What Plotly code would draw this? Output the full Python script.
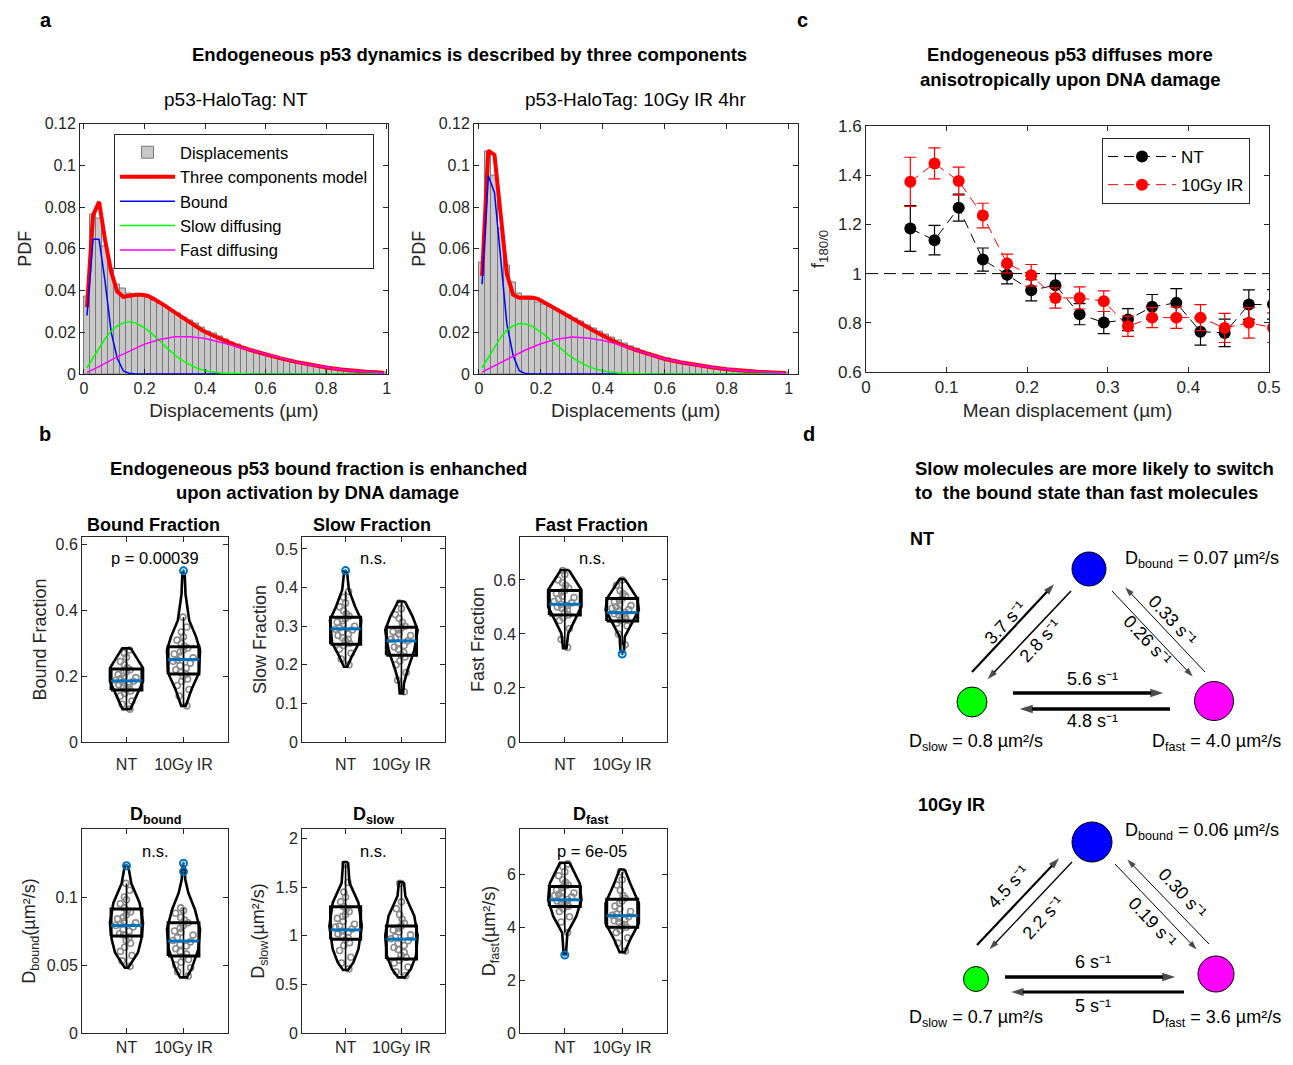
import plotly.graph_objects as go

# Page body keeps an 8 px margin, so the figure is 16 px smaller than the window.
OFF = 8
W, H = 1293 - 2 * OFF, 1065 - 2 * OFF
FONT = "Liberation Sans, Arial, Helvetica, sans-serif"
AXC = "#262626"
MEANC = "#0072BD"
GRAYPT = "#8c8c8c"


def px(x):
    return (x - OFF) / W


def py(y):
    return 1 - (y - OFF) / H


# ================= Panel a : displacement histograms =================
BIN_WIDTH = 0.02
hist_nt = [0.0373, 0.0766, 0.0745, 0.0613, 0.0506, 0.0430, 0.0408, 0.0385, 0.0378, 0.0372,
           0.0365, 0.0350, 0.0340, 0.0322, 0.0305, 0.0290, 0.0272, 0.0258, 0.0240, 0.0222,
           0.0205, 0.0192, 0.0178, 0.0165, 0.0152, 0.0140, 0.0128, 0.0118, 0.0107, 0.0098,
           0.0090, 0.0082, 0.0075, 0.0066, 0.0060, 0.0054, 0.0048, 0.0042, 0.0037, 0.0033,
           0.0029, 0.0025, 0.0022, 0.0019, 0.0016, 0.0014, 0.0012, 0.0010, 0.0009, 0.0008]
hist_ir = [0.0533, 0.1067, 0.0951, 0.0697, 0.0522, 0.0437, 0.0386, 0.0370, 0.0355, 0.0342,
           0.0332, 0.0322, 0.0310, 0.0296, 0.0282, 0.0266, 0.0250, 0.0234, 0.0218, 0.0202,
           0.0188, 0.0174, 0.0160, 0.0147, 0.0134, 0.0122, 0.0110, 0.0099, 0.0089, 0.0080,
           0.0072, 0.0064, 0.0057, 0.0051, 0.0045, 0.0040, 0.0035, 0.0031, 0.0027, 0.0024,
           0.0021, 0.0018, 0.0016, 0.0014, 0.0012, 0.0010, 0.0009, 0.0007, 0.0006, 0.0005]
bin_centers = [round(BIN_WIDTH * (i + 0.5), 3) for i in range(len(hist_nt))]

model_x = [0.01, 0.03, 0.05, 0.07, 0.09, 0.11, 0.13, 0.15, 0.17, 0.19, 0.21, 0.23, 0.25,
           0.27, 0.29, 0.31, 0.33, 0.35, 0.37, 0.39, 0.41, 0.45, 0.5, 0.55, 0.6, 0.65,
           0.7, 0.75, 0.8, 0.85, 0.9, 0.95, 0.99]
model_nt = [0.032, 0.076, 0.0825, 0.064, 0.049, 0.0395, 0.037, 0.0375, 0.038, 0.038, 0.0375,
            0.036, 0.0345, 0.0325, 0.0305, 0.0285, 0.0265, 0.0245, 0.0228, 0.021, 0.0195,
            0.0168, 0.0138, 0.0114, 0.0093, 0.0075, 0.0058, 0.0043, 0.0031, 0.0022, 0.0014,
            0.0009, 0.0006]
model_ir = [0.047, 0.107, 0.105, 0.077, 0.048, 0.038, 0.0365, 0.0365, 0.0366, 0.036, 0.0345,
            0.033, 0.031, 0.0293, 0.0275, 0.0257, 0.024, 0.0223, 0.0207, 0.0192, 0.0178,
            0.0146, 0.0118, 0.0093, 0.0072, 0.0056, 0.0043, 0.0032, 0.0023, 0.0016, 0.0011,
            0.0007, 0.0005]
bound_x = [0.01, 0.03, 0.05, 0.07, 0.09, 0.11, 0.13, 0.15, 0.17, 0.99]
bound_nt = [0.028, 0.0645, 0.0645, 0.044, 0.02, 0.0075, 0.0015, 0.0003, 0.0, 0.0]
bound_ir = [0.043, 0.095, 0.087, 0.056, 0.024, 0.009, 0.0016, 0.0002, 0.0, 0.0]
slow_x = [0.01, 0.03, 0.05, 0.07, 0.09, 0.11, 0.13, 0.15, 0.17, 0.19, 0.21, 0.23, 0.25,
          0.27, 0.29, 0.31, 0.33, 0.35, 0.37, 0.39, 0.41, 0.45, 0.5, 0.55, 0.6, 0.99]
slow_nt = [0.003, 0.0075, 0.0125, 0.017, 0.0205, 0.023, 0.0245, 0.025, 0.0245, 0.023, 0.021,
           0.0185, 0.016, 0.013, 0.0105, 0.008, 0.006, 0.0045, 0.003, 0.002, 0.0013, 0.0005,
           0.0001, 0.0, 0.0, 0.0]
slow_ir = [0.003, 0.008, 0.013, 0.0175, 0.021, 0.023, 0.0242, 0.024, 0.023, 0.0212, 0.019,
           0.0165, 0.014, 0.0115, 0.009, 0.007, 0.0052, 0.0038, 0.0027, 0.0018, 0.0012, 0.0005,
           0.0001, 0.0, 0.0, 0.0]
fast_x = [0.01, 0.05, 0.1, 0.15, 0.2, 0.25, 0.3, 0.35, 0.4, 0.45, 0.5, 0.55, 0.6, 0.65, 0.7,
          0.75, 0.8, 0.85, 0.9, 0.95, 0.99]
fast_nt = [0.0008, 0.0035, 0.0075, 0.011, 0.0143, 0.0165, 0.0178, 0.0178, 0.017, 0.0152,
           0.0133, 0.0113, 0.0093, 0.0075, 0.0058, 0.0043, 0.0031, 0.0022, 0.0014, 0.0009,
           0.0005]
fast_ir = [0.0009, 0.004, 0.008, 0.0115, 0.0145, 0.0167, 0.0177, 0.0172, 0.016, 0.0142,
           0.0118, 0.0093, 0.0072, 0.0056, 0.0043, 0.0032, 0.0023, 0.0016, 0.0011, 0.0007,
           0.0005]

# ================= Panel c : anisotropy =================
mean_disp = [0.055, 0.085, 0.115, 0.145, 0.175, 0.205, 0.235, 0.265, 0.295, 0.325,
             0.355, 0.385, 0.415, 0.445, 0.475, 0.505]
f_nt = [1.183, 1.136, 1.268, 1.057, 0.995, 0.932, 0.953, 0.835, 0.801, 0.813,
        0.865, 0.881, 0.764, 0.759, 0.874, 0.875]
f_nt_err = [0.093, 0.06, 0.055, 0.047, 0.037, 0.043, 0.047, 0.043, 0.045, 0.045,
            0.05, 0.058, 0.055, 0.056, 0.06, 0.06]
f_ir = [1.373, 1.448, 1.376, 1.236, 1.041, 0.993, 0.901, 0.901, 0.888, 0.786,
        0.821, 0.821, 0.821, 0.779, 0.80, 0.78]
f_ir_err = [0.10, 0.063, 0.057, 0.05, 0.038, 0.044, 0.041, 0.045, 0.042, 0.041,
            0.041, 0.044, 0.053, 0.059, 0.062, 0.06]

# ================= Panel b : violin data =================
conditions = ["NT", "10Gy IR"]
# Bound fraction
bf_nt = [0.10, 0.115, 0.125, 0.14, 0.148, 0.155, 0.16, 0.165, 0.17, 0.174, 0.178, 0.182,
         0.185, 0.188, 0.192, 0.196, 0.2, 0.205, 0.21, 0.214, 0.22, 0.226, 0.235, 0.245,
         0.258, 0.27, 0.28]
bf_ir = [0.11, 0.14, 0.16, 0.172, 0.185, 0.192, 0.2, 0.206, 0.212, 0.22, 0.226, 0.232,
         0.24, 0.246, 0.25, 0.256, 0.262, 0.268, 0.274, 0.28, 0.286, 0.292, 0.30, 0.31,
         0.32, 0.335, 0.35, 0.38]
bf_out = [[], [0.521]]
bf_q1 = [0.158, 0.207]
bf_q3 = [0.222, 0.29]
bf_mean = [0.186, 0.251]
bf_vy = [[0.285, 0.225, 0.185, 0.155, 0.10],
         [0.515, 0.45, 0.37, 0.32, 0.28, 0.21, 0.16, 0.11]]
bf_vw = [[0.075, 0.29, 0.29, 0.21, 0.07],
         [0.02, 0.035, 0.10, 0.22, 0.29, 0.27, 0.14, 0.04]]
# Slow fraction
sf_nt = [0.20, 0.215, 0.23, 0.24, 0.25, 0.255, 0.262, 0.266, 0.27, 0.276, 0.28, 0.285,
         0.29, 0.292, 0.296, 0.30, 0.305, 0.31, 0.314, 0.32, 0.326, 0.332, 0.34, 0.35,
         0.36, 0.375, 0.39]
sf_ir = [0.13, 0.16, 0.18, 0.20, 0.21, 0.22, 0.226, 0.232, 0.24, 0.246, 0.25, 0.256,
         0.262, 0.266, 0.27, 0.276, 0.28, 0.286, 0.29, 0.295, 0.30, 0.31, 0.32, 0.33,
         0.345, 0.36]
sf_out = [[0.444], []]
sf_q1 = [0.253, 0.225]
sf_q3 = [0.323, 0.297]
sf_mean = [0.293, 0.262]
sf_vy = [[0.442, 0.394, 0.351, 0.316, 0.256, 0.221, 0.195],
         [0.364, 0.325, 0.29, 0.238, 0.186, 0.152, 0.126]]
sf_vw = [[0.025, 0.06, 0.17, 0.28, 0.24, 0.11, 0.03],
         [0.06, 0.20, 0.29, 0.23, 0.11, 0.045, 0.03]]
# Fast fraction
ff_nt = [0.35, 0.38, 0.42, 0.45, 0.46, 0.47, 0.48, 0.49, 0.495, 0.50, 0.505, 0.51, 0.515,
         0.52, 0.53, 0.535, 0.54, 0.55, 0.555, 0.56, 0.57, 0.58, 0.59, 0.60, 0.62, 0.635]
ff_ir = [0.36, 0.40, 0.43, 0.44, 0.45, 0.455, 0.46, 0.465, 0.47, 0.475, 0.48, 0.485, 0.49,
         0.495, 0.50, 0.505, 0.51, 0.52, 0.525, 0.53, 0.54, 0.55, 0.56, 0.58, 0.60]
ff_out = [[], [0.326]]
ff_q1 = [0.470, 0.448]
ff_q3 = [0.561, 0.531]
ff_mean = [0.51, 0.479]
ff_vy = [[0.637, 0.563, 0.501, 0.452, 0.402, 0.347],
         [0.603, 0.532, 0.489, 0.439, 0.39, 0.335]]
ff_vw = [[0.07, 0.29, 0.29, 0.17, 0.06, 0.03],
         [0.045, 0.26, 0.29, 0.17, 0.045, 0.03]]
# D bound
db_nt = [0.049, 0.053, 0.057, 0.06, 0.063, 0.066, 0.068, 0.07, 0.072, 0.073, 0.075, 0.076,
         0.078, 0.079, 0.08, 0.081, 0.082, 0.084, 0.085, 0.087, 0.089, 0.09, 0.092, 0.095,
         0.098, 0.10, 0.105, 0.11]
db_ir = [0.042, 0.045, 0.048, 0.05, 0.052, 0.054, 0.056, 0.058, 0.06, 0.062, 0.064, 0.065,
         0.067, 0.068, 0.07, 0.072, 0.074, 0.075, 0.077, 0.079, 0.081, 0.083, 0.085, 0.088,
         0.09, 0.092]
db_out = [[0.123], [0.1187, 0.1248]]
db_q1 = [0.0713, 0.0567]
db_q3 = [0.0912, 0.081]
db_mean = [0.079, 0.0676]
db_vy = [[0.123, 0.110, 0.0956, 0.081, 0.0689, 0.059, 0.048],
         [0.123, 0.113, 0.103, 0.0908, 0.0762, 0.0616, 0.047, 0.0409]]
db_vw = [[0.03, 0.085, 0.23, 0.29, 0.26, 0.20, 0.03],
         [0.02, 0.03, 0.085, 0.20, 0.29, 0.26, 0.14, 0.06]]
# D slow
ds_nt = [0.66, 0.72, 0.78, 0.85, 0.90, 0.93, 0.96, 0.98, 1.0, 1.02, 1.04, 1.05, 1.07, 1.09,
         1.10, 1.12, 1.15, 1.18, 1.20, 1.22, 1.25, 1.28, 1.30, 1.35, 1.40, 1.45, 1.55, 1.74]
ds_ir = [0.59, 0.63, 0.68, 0.72, 0.75, 0.78, 0.80, 0.83, 0.86, 0.88, 0.90, 0.92, 0.95, 0.97,
         0.99, 1.01, 1.04, 1.06, 1.08, 1.10, 1.13, 1.17, 1.22, 1.28, 1.35, 1.54]
ds_out = [[], []]
ds_q1 = [0.966, 0.761]
ds_q3 = [1.30, 1.102]
ds_mean = [1.061, 0.966]
ds_vy = [[1.757, 1.546, 1.341, 1.10, 0.863, 0.727, 0.648],
         [1.553, 1.41, 1.205, 1.0, 0.795, 0.659, 0.573]]
ds_vw = [[0.045, 0.07, 0.23, 0.29, 0.23, 0.14, 0.045],
         [0.045, 0.07, 0.23, 0.29, 0.26, 0.17, 0.06]]
# D fast
dfa_nt = [3.8, 4.2, 4.4, 4.6, 4.7, 4.8, 4.85, 4.9, 4.95, 5.0, 5.05, 5.1, 5.15, 5.2, 5.25,
          5.3, 5.35, 5.4, 5.5, 5.55, 5.6, 5.7, 5.8, 5.95, 6.1, 6.3, 6.4]
dfa_ir = [3.1, 3.4, 3.6, 3.8, 3.9, 4.0, 4.05, 4.1, 4.2, 4.25, 4.3, 4.35, 4.4, 4.45, 4.5,
          4.6, 4.7, 4.8, 4.9, 5.0, 5.1, 5.2, 5.4, 5.6, 5.8, 6.1]
dfa_out = [[2.95], []]
dfa_q1 = [4.79, 4.0]
dfa_q3 = [5.54, 5.06]
dfa_mean = [5.04, 4.44]
dfa_vy = [[6.44, 5.66, 5.04, 4.41, 3.79, 3.16, 2.98],
          [6.19, 5.66, 4.91, 4.16, 3.54, 3.06]]
dfa_vw = [[0.085, 0.26, 0.29, 0.20, 0.045, 0.025, 0.02],
          [0.045, 0.14, 0.29, 0.29, 0.14, 0.045]]

# ================= Panel d : kinetic scheme =================
nt_rates = ["3.7", "2.8", "0.26", "0.33", "5.6", "4.8"]
ir_rates = ["4.5", "2.2", "0.19", "0.30", "6", "5"]
nt_D = ["0.07", "0.8", "4.0"]
ir_D = ["0.06", "0.7", "3.6"]

# ---------------------------------------------------------------------
fig = go.Figure()

AXBOX = {
    1: (80, 388, 123.5, 374),
    2: (474, 797.5, 123.5, 374),
    3: (866, 1269, 126, 372),
    4: (82, 228, 537, 742),
    5: (302, 445, 537, 742),
    6: (520, 667, 537, 742),
    7: (82, 228, 829, 1033),
    8: (302, 445, 829, 1033),
    9: (520, 667, 829, 1033),
}
SCHEME_BOX = (870, 1285, 500, 1057)   # invisible axes used for panel d scheme


def axn(n, c):
    return c if n == 1 else f"{c}{n}"


def base_axis(size=16):
    return dict(showline=True, linecolor=AXC, linewidth=1, mirror="ticks", ticks="inside",
                ticklen=5, tickcolor=AXC, showgrid=False, zeroline=False, automargin=False,
                tickfont=dict(family=FONT, size=size, color=AXC))


layout_axes = {}
for n, (x0, x1, y0, y1) in AXBOX.items():
    xa = base_axis()
    ya = base_axis()
    xa.update(domain=[px(x0), px(x1)], anchor=axn(n, "y"))
    ya.update(domain=[py(y1), py(y0)], anchor=axn(n, "x"))
    layout_axes["xaxis" if n == 1 else f"xaxis{n}"] = xa
    layout_axes["yaxis" if n == 1 else f"yaxis{n}"] = ya

sx0, sx1, sy0, sy1 = SCHEME_BOX
layout_axes["xaxis10"] = dict(domain=[px(sx0), px(sx1)], range=[sx0, sx1], visible=False,
                              anchor="y10", fixedrange=True, automargin=False)
layout_axes["yaxis10"] = dict(domain=[py(sy1), py(sy0)], range=[sy1, sy0], visible=False,
                              anchor="x10", fixedrange=True, automargin=False)

# ---- panel a
for n, hist, model, b, s, f, xr in [
        (1, hist_nt, model_nt, bound_nt, slow_nt, fast_nt, [-0.013, 1.004]),
        (2, hist_ir, model_ir, bound_ir, slow_ir, fast_ir, [-0.016, 1.028])]:
    show = n == 1
    xa, ya = axn(n, "x"), axn(n, "y")
    fig.add_trace(go.Bar(x=bin_centers, y=hist, width=BIN_WIDTH, name="Displacements",
                         marker=dict(color="#c8c8c8", line=dict(color="#7a7a7a", width=1)),
                         xaxis=xa, yaxis=ya, showlegend=show, legend="legend"))
    fig.add_trace(go.Scatter(x=model_x, y=model, mode="lines", name="Three components model",
                             line=dict(color="#ff0000", width=4), xaxis=xa, yaxis=ya,
                             showlegend=show, legend="legend"))
    fig.add_trace(go.Scatter(x=bound_x, y=b, mode="lines", name="Bound",
                             line=dict(color="#0000ff", width=1.5), xaxis=xa, yaxis=ya,
                             showlegend=show, legend="legend"))
    fig.add_trace(go.Scatter(x=slow_x, y=s, mode="lines", name="Slow diffusing",
                             line=dict(color="#00ff00", width=1.5), xaxis=xa, yaxis=ya,
                             showlegend=show, legend="legend"))
    fig.add_trace(go.Scatter(x=fast_x, y=f, mode="lines", name="Fast diffusing",
                             line=dict(color="#ff00ff", width=1.5), xaxis=xa, yaxis=ya,
                             showlegend=show, legend="legend"))
    key = "" if n == 1 else str(n)
    layout_axes["xaxis" + key].update(
        range=xr, tickvals=[0, 0.2, 0.4, 0.6, 0.8, 1],
        title=dict(text="Displacements (µm)", font=dict(family=FONT, size=19, color=AXC),
                   standoff=7))
    layout_axes["yaxis" + key].update(
        range=[0, 0.12], tickvals=[0, 0.02, 0.04, 0.06, 0.08, 0.1, 0.12],
        title=dict(text="PDF", font=dict(family=FONT, size=18, color=AXC), standoff=8))

# ---- panel c
fig.add_trace(go.Scatter(x=mean_disp, y=f_nt, mode="lines+markers", name="NT",
                         line=dict(color="black", width=1, dash="10px,6px"),
                         marker=dict(color="black", size=12),
                         error_y=dict(type="data", array=f_nt_err, color="black",
                                      thickness=1.2, width=6),
                         xaxis="x3", yaxis="y3", legend="legend2", legendgroup="nt"))
fig.add_trace(go.Scatter(x=mean_disp, y=f_ir, mode="lines+markers", name="10Gy IR",
                         line=dict(color="#ff0000", width=1, dash="10px,6px"),
                         marker=dict(color="#ff0000", size=12),
                         error_y=dict(type="data", array=f_ir_err, color="#ff0000",
                                      thickness=1.2, width=6),
                         xaxis="x3", yaxis="y3", legend="legend2", legendgroup="ir"))
layout_axes["xaxis3"].update(range=[0, 0.5], tickvals=[0, 0.1, 0.2, 0.3, 0.4, 0.5],
                             tickfont=dict(family=FONT, size=17, color=AXC),
                             title=dict(text="Mean displacement (µm)",
                                        font=dict(family=FONT, size=19, color=AXC), standoff=7))
layout_axes["yaxis3"].update(range=[0.6, 1.6], tickvals=[0.6, 0.8, 1, 1.2, 1.4, 1.6],
                             tickfont=dict(family=FONT, size=17, color=AXC),
                             title=dict(text="f<sub>180/0</sub>",
                                        font=dict(family=FONT, size=19, color=AXC), standoff=8))

shapes = [dict(type="line", xref="x3", yref="y3", x0=0, x1=0.5, y0=1, y1=1, layer="below",
               line=dict(color="black", width=1, dash="12px,6px"))]

# ---- panel b violins
BOX_HALF = 0.27
CENTERS = [1, 2]
violin_panels = [
    (4, [bf_nt, bf_ir], bf_out, bf_q1, bf_q3, bf_mean, bf_vy, bf_vw, [0, 0.624],
     [0, 0.2, 0.4, 0.6], "Bound Fraction", 4),
    (5, [sf_nt, sf_ir], sf_out, sf_q1, sf_q3, sf_mean, sf_vy, sf_vw, [0, 0.531],
     [0, 0.1, 0.2, 0.3, 0.4, 0.5], "Slow Fraction", 4),
    (6, [ff_nt, ff_ir], ff_out, ff_q1, ff_q3, ff_mean, ff_vy, ff_vw, [0, 0.759],
     [0, 0.2, 0.4, 0.6], "Fast Fraction", 4),
    (7, [db_nt, db_ir], db_out, db_q1, db_q3, db_mean, db_vy, db_vw, [0, 0.150],
     [0, 0.05, 0.1], "D<sub>bound</sub>(µm²/s)", 6),
    (8, [ds_nt, ds_ir], ds_out, ds_q1, ds_q3, ds_mean, ds_vy, ds_vw, [0, 2.10],
     [0, 0.5, 1, 1.5, 2], "D<sub>slow</sub>(µm²/s)", 6),
    (9, [dfa_nt, dfa_ir], dfa_out, dfa_q1, dfa_q3, dfa_mean, dfa_vy, dfa_vw, [0, 7.72],
     [0, 2, 4, 6], "D<sub>fast</sub>(µm²/s)", 6),
]

for n, pts, outl, q1, q3, mean, vy, vw, yr, ytv, ytitle, stand in violin_panels:
    xa, ya = f"x{n}", f"y{n}"
    for i, c in enumerate(CENTERS):
        p = pts[i]
        fig.add_trace(go.Box(x=[c] * len(p), y=p, orientation="v", boxpoints="all",
                             jitter=0.9, pointpos=0, width=0.42,
                             fillcolor="rgba(0,0,0,0)",
                             line=dict(color="rgba(0,0,0,0)", width=0),
                             marker=dict(symbol="circle-open", size=6, color=GRAYPT,
                                         line=dict(width=1.6, color=GRAYPT)),
                             xaxis=xa, yaxis=ya, showlegend=False, hoverinfo="y"))
        ys, ws = vy[i], vw[i]
        vx = [c + w for w in ws] + [c - w for w in reversed(ws)] + [c + ws[0]]
        vyy = list(ys) + list(reversed(ys)) + [ys[0]]
        fig.add_trace(go.Scatter(x=vx, y=vyy, mode="lines", line=dict(color="black", width=2.6),
                                 xaxis=xa, yaxis=ya, showlegend=False, hoverinfo="skip"))
        fig.add_trace(go.Scatter(x=[c, c], y=[min(p), max(p)], mode="lines",
                                 line=dict(color="black", width=1.6),
                                 xaxis=xa, yaxis=ya, showlegend=False, hoverinfo="skip"))
        fig.add_trace(go.Scatter(
            x=[c - BOX_HALF, c + BOX_HALF, c + BOX_HALF, c - BOX_HALF, c - BOX_HALF],
            y=[q1[i], q1[i], q3[i], q3[i], q1[i]], mode="lines",
            line=dict(color="black", width=3), xaxis=xa, yaxis=ya, showlegend=False,
            hoverinfo="skip"))
        fig.add_trace(go.Scatter(x=[c - BOX_HALF, c + BOX_HALF], y=[mean[i], mean[i]],
                                 mode="lines", line=dict(color=MEANC, width=3),
                                 xaxis=xa, yaxis=ya, showlegend=False, hoverinfo="skip"))
        if outl[i]:
            fig.add_trace(go.Scatter(x=[c] * len(outl[i]), y=outl[i], mode="markers",
                                     marker=dict(symbol="circle-open-dot", size=7, color=MEANC,
                                                 line=dict(width=2, color=MEANC)),
                                     xaxis=xa, yaxis=ya, showlegend=False))
    layout_axes[f"xaxis{n}"].update(range=[0.22, 2.78], tickvals=CENTERS, ticktext=conditions,
                                    ticklabelstandoff=8 if n < 7 else 0)
    layout_axes[f"yaxis{n}"].update(range=yr, tickvals=ytv,
                                    title=dict(text=ytitle,
                                               font=dict(family=FONT, size=18, color=AXC),
                                               standoff=stand))

# ---- annotations
ann = []


def text(x, y, s, size=17, bold=False, xanchor="center", yanchor="middle", angle=0):
    ann.append(dict(x=px(x), y=py(y), xref="paper", yref="paper", text=s, showarrow=False,
                    font=dict(family=FONT, size=size, color="black",
                              weight="bold" if bold else "normal"),
                    xanchor=xanchor, yanchor=yanchor, textangle=angle))


text(46, 20, "a", 20, True)
text(45, 434, "b", 20, True)
text(802, 20, "c", 20, True)
text(809, 434, "d", 20, True)

HEAD = 18.5
text(470, 55, "Endogeneous p53 dynamics is described by three components", HEAD, True)
text(236, 100, "p53-HaloTag: NT", 19)
text(635, 100, "p53-HaloTag: 10Gy IR 4hr", 19)
text(1070, 55, "Endogeneous p53 diffuses more", HEAD, True)
text(1070, 79, "anisotropically upon DNA damage", HEAD, True)
text(318, 468, "Endogeneous p53 bound fraction is enhanched", HEAD, True)
text(317, 492, "upon activation by DNA damage", HEAD, True)
text(913, 468, "Slow molecules are more likely to switch", HEAD, True, xanchor="left")
text(913, 492, "to  the bound state than fast molecules", HEAD, True, xanchor="left")

for (x, y, s) in [(153, 525, "Bound Fraction"), (372, 525, "Slow Fraction"),
                  (591, 525, "Fast Fraction"), (155, 815, "D<sub>bound</sub>"),
                  (373, 815, "D<sub>slow</sub>"), (591, 815, "D<sub>fast</sub>")]:
    text(x, y, s, 18, True)

for (x, y, s) in [(155, 558, "p = 0.00039"), (373, 558, "n.s."), (592, 558, "n.s."),
                  (155, 851, "n.s."), (373, 851, "n.s."), (592, 851, "p = 6e-05")]:
    text(x, y, s, 16.5)

# ---- panel d diagrams (drawn on invisible pixel-scaled axes x10/y10)
text(922, 539, "NT", 18, True)
text(951, 805, "10Gy IR", 18, True)


def circle(cx, cy, r, color):
    shapes.append(dict(type="circle", xref="x10", yref="y10",
                       x0=cx - r, x1=cx + r, y0=cy - r, y1=cy + r,
                       fillcolor=color, line=dict(color="black", width=1)))


def arrow(tail, head, w):
    size = 8 + 1.6 * w
    dx, dy = head[0] - tail[0], head[1] - tail[1]
    L = (dx * dx + dy * dy) ** 0.5
    back = size * 0.5
    hx, hy = head[0] - dx / L * back, head[1] - dy / L * back
    fig.add_trace(go.Scatter(x=[tail[0], hx], y=[tail[1], hy], mode="lines+markers",
                             line=dict(color="black", width=w),
                             marker=dict(symbol="arrow", size=[0, size], angleref="previous",
                                         color="black", line=dict(width=0)),
                             xaxis="x10", yaxis="y10", showlegend=False, hoverinfo="skip"))


schemes = [
    (nt_rates, nt_D, dict(
        circles=[(1089, 569, 17), (972, 702, 15), (1214, 701, 19.5)],
        arrows=[((972, 672), (1058, 580), 2.2), ((1071, 591), (984, 683), 1.6),
                ((1112, 591), (1196, 680), 1.0), ((1205, 672), (1122, 584), 1.0),
                ((1013, 693), (1170, 693), 3.5), ((1170, 709), (1013, 709), 3.5)],
        labels=[(1005, 623, -47), (1040, 641, -47), (1147, 640, 47), (1172, 620, 47),
                (1092, 679, 0), (1092, 721, 0)],
        dpos=[(1123, 559), (907, 742), (1150, 742)])),
    (ir_rates, ir_D, dict(
        circles=[(1092, 842, 20), (976, 979, 12.5), (1216, 974, 18)],
        arrows=[((977, 945), (1063, 854), 2.2), ((1072, 862), (986, 953), 1.3),
                ((1115, 864), (1200, 953), 1.0), ((1209, 944), (1124, 856), 1.0),
                ((1005, 977), (1182, 977), 3.5), ((1184, 992), (1005, 992), 3.0)],
        labels=[(1008, 887, -47), (1043, 918, -47), (1152, 922, 47), (1182, 893, 47),
                (1093, 962, 0), (1093, 1006, 0)],
        dpos=[(1123, 831), (907, 1018), (1150, 1018)])),
]

for rates, dvals, geo in schemes:
    for (cx, cy, r), col in zip(geo["circles"], ["#0000ff", "#00ff00", "#ff00ff"]):
        circle(cx, cy, r, col)
    for tail, head, w in geo["arrows"]:
        arrow(tail, head, w)
    for (x, y, a), rate in zip(geo["labels"], rates):
        text(x, y, f"{rate} s⁻¹", 18, angle=a)
    for (x, y), name, d in zip(geo["dpos"], ["bound", "slow", "fast"], dvals):
        text(x, y, f"D<sub>{name}</sub> = {d} µm²/s", 18, xanchor="left")

fig.update_layout(
    width=W, height=H, margin=dict(l=0, r=0, t=0, b=0, pad=0, autoexpand=False),
    paper_bgcolor="white", plot_bgcolor="white",
    font=dict(family=FONT, color=AXC),
    bargap=0, barmode="overlay",
    annotations=ann, shapes=shapes,
    legend=dict(x=px(114), y=py(134), xanchor="left", yanchor="top", bgcolor="white",
                bordercolor=AXC, borderwidth=1, font=dict(family=FONT, size=16.5, color="black"),
                itemwidth=55, tracegroupgap=0),
    legend2=dict(x=px(1102), y=py(138), xanchor="left", yanchor="top", bgcolor="white",
                 bordercolor=AXC, borderwidth=1, font=dict(family=FONT, size=17, color="black"),
                 itemwidth=68, tracegroupgap=3),
    **layout_axes,
)

fig.write_html("out.html", config={"displayModeBar": False})
